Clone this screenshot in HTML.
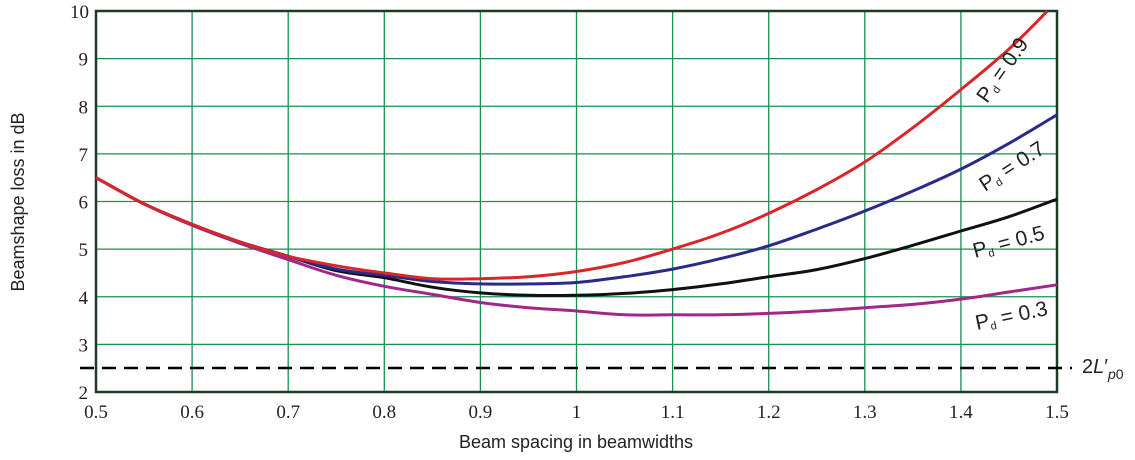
<!DOCTYPE html>
<html><head><meta charset="utf-8"><style>
html,body{margin:0;padding:0;background:#fff;}
svg{display:block;}
.t{font-family:"Liberation Serif",serif;font-size:19px;fill:#222;}
.a{font-family:"Liberation Sans",sans-serif;font-size:18px;fill:#222;}
.l{font-family:"Liberation Sans",sans-serif;font-size:21px;fill:#222;}
</style></head><body>
<svg id="s" width="1135" height="460" xmlns="http://www.w3.org/2000/svg"></svg>
<script>
const s=document.getElementById('s');
const X=v=>96+(v-0.5)*961, Y=v=>392-(v-2)*47.625;
let h='';
for(let i=1;i<10;i++){const x=X(0.5+i*0.1);h+=`<line x1="${x}" y1="11" x2="${x}" y2="392" stroke="#179052" stroke-width="1.3"/>`;}
for(let v=3;v<10;v++){h+=`<line x1="96" y1="${Y(v)}" x2="1057" y2="${Y(v)}" stroke="#179052" stroke-width="1.3"/>`;}
h+=`<rect x="96" y="11" width="961" height="381" fill="none" stroke="#1d3a24" stroke-width="2.5"/>`;
h+=`<line x1="80" y1="368" x2="1072" y2="368" stroke="#000" stroke-width="2.5" stroke-dasharray="14,8"/>`;
const xs=[0.5,0.55,0.6,0.65,0.7,0.75,0.8,0.85,0.9,0.95,1.0,1.05,1.1,1.15,1.2,1.25,1.3,1.35,1.4,1.45,1.5];
const base=[6.5,5.95,5.52,5.15,4.85];
const D={
'#d8262a':[...base,4.65,4.5,4.38,4.38,4.42,4.53,4.72,5.0,5.33,5.75,6.25,6.83,7.55,8.35,9.2,10.1],
'#2a2a8a':[...base,4.58,4.45,4.32,4.27,4.27,4.3,4.42,4.58,4.8,5.07,5.42,5.8,6.22,6.68,7.22,7.82],
'#111':[...base,4.55,4.4,4.2,4.08,4.03,4.03,4.07,4.15,4.27,4.42,4.57,4.8,5.08,5.38,5.68,6.05],
'#a0288a':[6.5,5.95,5.5,5.12,4.78,4.45,4.22,4.05,3.88,3.77,3.7,3.62,3.62,3.62,3.65,3.7,3.77,3.84,3.95,4.1,4.25]};
function smooth(pts){let d=`M${pts[0][0]},${pts[0][1]}`;for(let i=0;i<pts.length-1;i++){const p0=pts[i-1]||pts[i],p1=pts[i],p2=pts[i+1],p3=pts[i+2]||p2;
d+=` C${(p1[0]+(p2[0]-p0[0])/6).toFixed(1)},${(p1[1]+(p2[1]-p0[1])/6).toFixed(1)} ${(p2[0]-(p3[0]-p1[0])/6).toFixed(1)},${(p2[1]-(p3[1]-p1[1])/6).toFixed(1)} ${p2[0].toFixed(1)},${p2[1].toFixed(1)}`;}return d;}
for(const c of ['#a0288a','#111','#2a2a8a','#d8262a']){
 let pts=D[c].map((v,i)=>{let x=X(xs[i]),y=Y(v);if(y<11){x=X(1.49);y=11;}return [x,y];});
 h+=`<path d="${smooth(pts)}" fill="none" stroke="${c}" stroke-width="3" stroke-linejoin="round"/>`;}
for(let i=0;i<=10;i++){const v=0.5+i*0.1;h+=`<text class="t" x="${X(v)}" y="418" text-anchor="middle">${i==5?'1':v.toFixed(1)}</text>`;}
for(let v=2;v<=10;v++){h+=`<text class="t" x="${v==10?89:88}" y="${Y(v)+7}" text-anchor="end">${v}</text>`;}
h+=`<text class="a" x="576" y="448" text-anchor="middle">Beam spacing in beamwidths</text>`;
h+=`<text class="a" transform="translate(24,202) rotate(-90)" text-anchor="middle">Beamshape loss in dB</text>`;
const lab=[[987,104,-55,'0.9'],[985,192,-33,'0.7'],[975,258,-15,'0.5'],[977,330,-12,'0.3']];
for(const [x,y,r,t] of lab){h+=`<text class="l" transform="translate(${x},${y}) rotate(${r})">P<tspan font-size="11" dy="3">d</tspan><tspan dy="-3"> = ${t}</tspan></text>`;}
h+=`<text x="1082" y="373" style="font-family:'Liberation Sans',sans-serif;font-size:20px;fill:#222">2<tspan font-style="italic">L</tspan>′<tspan font-size="14" dy="6" font-style="italic">p</tspan><tspan font-size="14">0</tspan></text>`;
s.innerHTML=h;
</script>
</body></html>
